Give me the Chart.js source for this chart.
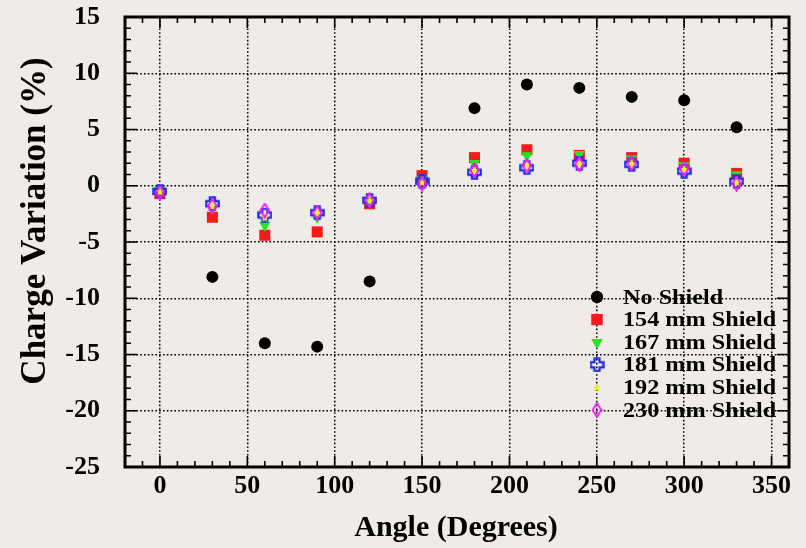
<!DOCTYPE html>
<html>
<head>
<meta charset="utf-8">
<script src="https://cdn.jsdelivr.net/npm/chart.js@4.4.1/dist/chart.umd.min.js"></script>
<style>
  html, body { margin: 0; padding: 0; background: #efece7; }
  #wrap { width: 806px; height: 548px; }
</style>
</head>
<body>
<div id="wrap"><canvas id="chart" width="806" height="548"></canvas></div>
<script>
// angles in degrees, charge variation in %
const angles = [0, 30, 60, 90, 120, 150, 180, 210, 240, 270, 300, 330];
const noShield  = [-0.5, -8.1, -14.0, -14.3, -8.5, 0.5, 6.9, 9.0, 8.7, 7.9, 7.6, 5.2];
const shield154 = [-0.7, -2.8, -4.4, -4.1, -1.6, 0.9, 2.5, 3.2, 2.7, 2.5, 2.0, 1.1];
const shield167 = [-0.3, -2.0, -3.5, -2.8, -1.3, 0.6, 2.0, 2.7, 2.8, 2.4, 1.8, 1.0];
const shield181 = [-0.5, -1.6, -2.6, -2.4, -1.3, 0.4, 1.2, 1.6, 2.0, 1.9, 1.3, 0.4];
const shield192 = [-0.5, -1.8, -2.8, -2.4, -1.3, 0.3, 1.4, 1.9, 2.0, 2.0, 1.5, 0.3];
const shield230 = [-0.6, -1.8, -2.2, -2.4, -1.3, 0.2, 1.4, 1.8, 1.9, 2.0, 1.5, 0.2];

const seriesLabels = ['No Shield', '154 mm Shield', '167 mm Shield', '181 mm Shield', '192 mm Shield', '230 mm Shield'];
const seriesValues = [noShield, shield154, shield167, shield181, shield192, shield230];
const seriesColors = ['#000000', '#f21c1c', '#1ee81e', '#1a2ee8', '#f5f01a', '#ee22ee'];

const FONT = "'Liberation Serif', 'Times New Roman', serif";

// small canvases for the marker shapes Chart.js doesn't have
function markerCanvas(w, h, draw) {
    const c = document.createElement('canvas');
    c.width = w; c.height = h;
    draw(c.getContext('2d'), w, h);
    return c;
}

const openCross = markerCanvas(15, 15, (g, w, h) => {
    const c = w / 2, a = 2.6, r = 6.2;
    g.beginPath();
    g.moveTo(c - a, c - r); g.lineTo(c + a, c - r); g.lineTo(c + a, c - a);
    g.lineTo(c + r, c - a); g.lineTo(c + r, c + a); g.lineTo(c + a, c + a);
    g.lineTo(c + a, c + r); g.lineTo(c - a, c + r); g.lineTo(c - a, c + a);
    g.lineTo(c - r, c + a); g.lineTo(c - r, c - a); g.lineTo(c - a, c - a);
    g.closePath();
    g.strokeStyle = seriesColors[3];
    g.lineWidth = 2.2;
    g.stroke();
});

const smallStar = markerCanvas(10, 10, (g, w, h) => {
    const cx = w / 2, cy = h / 2 + 0.5, ro = 4.5, ri = 1.9;
    g.beginPath();
    for (let i = 0; i < 10; i++) {
        const r = i % 2 ? ri : ro;
        const ang = -Math.PI / 2 + i * Math.PI / 5;
        g.lineTo(cx + r * Math.cos(ang), cy + r * Math.sin(ang));
    }
    g.closePath();
    g.fillStyle = seriesColors[4];
    g.fill();
});

const openDiamond = markerCanvas(11, 16, (g, w, h) => {
    g.beginPath();
    g.moveTo(w / 2, 1.2); g.lineTo(w - 1.2, h / 2);
    g.lineTo(w / 2, h - 1.2); g.lineTo(1.2, h / 2);
    g.closePath();
    g.strokeStyle = seriesColors[5];
    g.lineWidth = 2;
    g.stroke();
});

const pointStyles = ['circle', 'rect', 'triangle', openCross, smallStar, openDiamond];
const pointRadii = [6, 7.8, 6.5, 6, 6, 6];
const pointRotations = [0, 0, 180, 0, 0, 0];

const datasets = seriesLabels.map((label, i) => ({
    label: label,
    data: angles.map((a, k) => ({ x: a, y: seriesValues[i][k] })),
    pointStyle: pointStyles[i],
    pointRadius: pointRadii[i],
    pointRotation: pointRotations[i],
    backgroundColor: seriesColors[i],
    borderColor: seriesColors[i],
    borderWidth: 0,
    showLine: false,
    order: seriesLabels.length - i   // last series on top
}));

// frame, inward tick marks, legend and axis titles
const framePlugin = {
    id: 'frame',
    afterDatasetsDraw(chart) {
        const { ctx, chartArea: a, scales: { x, y } } = chart;
        ctx.save();
        ctx.strokeStyle = '#000';
        ctx.lineWidth = 1.6;
        ctx.beginPath();
        for (let v = -20; v <= 360; v += 10) {
            const px = x.getPixelForValue(v);
            const len = v % 50 === 0 ? 11 : 6;
            ctx.moveTo(px, a.bottom); ctx.lineTo(px, a.bottom - len);
            ctx.moveTo(px, a.top); ctx.lineTo(px, a.top + len);
        }
        for (let v = -25; v <= 15; v += 1) {
            const py = y.getPixelForValue(v);
            const len = v % 5 === 0 ? 12 : 6;
            ctx.moveTo(a.left, py); ctx.lineTo(a.left + len, py);
            ctx.moveTo(a.right, py); ctx.lineTo(a.right - len, py);
        }
        ctx.stroke();
        ctx.lineWidth = 3;
        ctx.strokeRect(a.left, a.top, a.right - a.left, a.bottom - a.top);
        ctx.restore();
    },
    afterDraw(chart) {
        const { ctx } = chart;
        ctx.save();
        // legend
        chart.data.datasets.forEach((ds, i) => {
            const yy = 297 + i * 22.6;
            const opts = { pointStyle: ds.pointStyle, radius: ds.pointRadius, rotation: ds.pointRotation, borderWidth: 0 };
            ctx.fillStyle = ds.backgroundColor;
            ctx.beginPath();
            Chart.helpers.drawPoint(ctx, opts, 597, yy);
            if (typeof ds.pointStyle === 'string') ctx.fill();
            ctx.save();
            ctx.translate(623, yy + 1);
            ctx.scale(1.1, 1);
            ctx.font = `bold 22px ${FONT}`;
            ctx.fillStyle = '#000';
            ctx.textBaseline = 'middle';
            ctx.textAlign = 'left';
            ctx.fillText(ds.label, 0, 0);
            ctx.restore();
        });
        // axis titles
        ctx.fillStyle = '#000';
        ctx.textBaseline = 'middle';
        ctx.textAlign = 'center';
        ctx.font = `bold 30px ${FONT}`;
        ctx.fillText('Angle (Degrees)', 456, 528);
        ctx.translate(36, 221);
        ctx.rotate(-Math.PI / 2);
        ctx.font = `bold 35px ${FONT}`;
        ctx.fillText('Charge Variation (%)', 0, 0);
        ctx.restore();
    }
};

new Chart(document.getElementById('chart'), {
    type: 'scatter',
    data: { datasets: datasets },
    options: {
        responsive: false,
        animation: false,
        events: [],
        layout: { padding: { left: 0, right: 17, top: 17, bottom: 0 } },
        plugins: {
            legend: { display: false },
            tooltip: { enabled: false }
        },
        scales: {
            x: {
                type: 'linear',
                min: -20,
                max: 360,
                afterFit: (scale) => {
                    scale.height = 81;
                    scale.paddingLeft = 0;
                    scale.paddingRight = 0;
                },
                ticks: {
                    stepSize: 50,
                    includeBounds: false,
                    padding: 4,
                    color: '#000',
                    font: { family: FONT, size: 26, weight: 'bold' },
                    maxRotation: 0,
                    autoSkip: false
                },
                grid: { color: '#000', lineWidth: 1.5, drawTicks: false },
                border: { display: false, dash: [1.6, 2.2] }
            },
            y: {
                type: 'linear',
                min: -25,
                max: 15,
                afterFit: (scale) => {
                    scale.width = 125;
                    scale.paddingTop = 0;
                    scale.paddingBottom = 0;
                },
                ticks: {
                    stepSize: 5,
                    padding: 25,
                    color: '#000',
                    font: { family: FONT, size: 26, weight: 'bold' }
                },
                grid: { color: '#000', lineWidth: 1.5, drawTicks: false },
                border: { display: false, dash: [1.6, 2.2] }
            }
        }
    },
    plugins: [framePlugin]
});
</script>
</body>
</html>
